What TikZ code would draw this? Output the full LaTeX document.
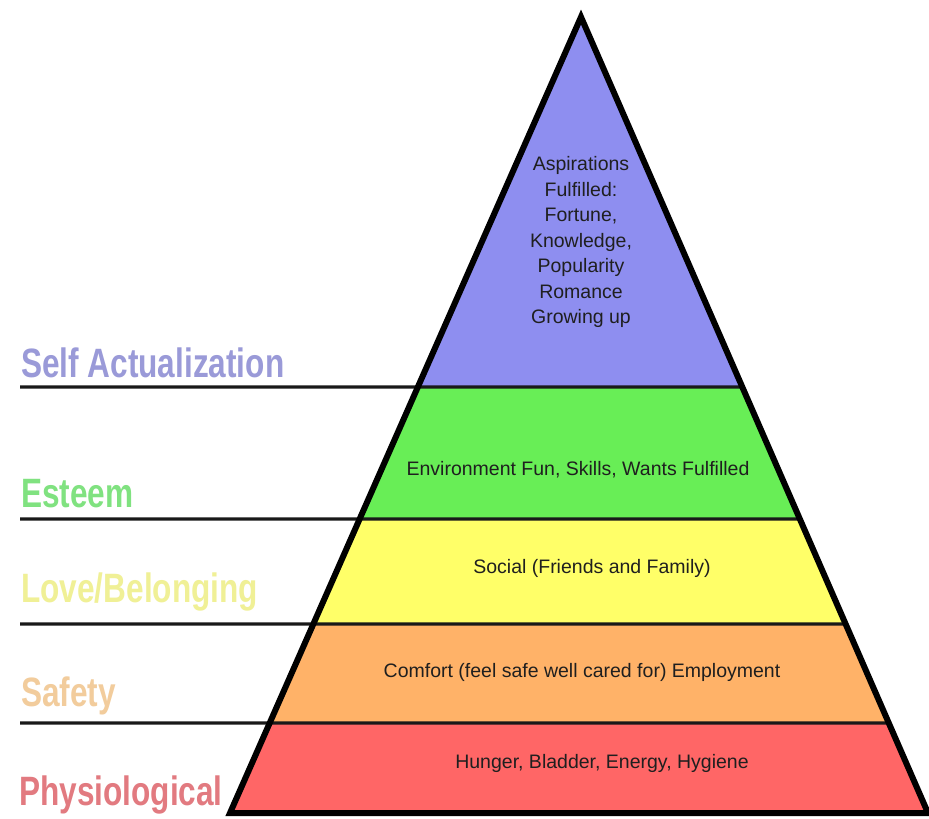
\documentclass[tikz,border=0pt]{standalone}
\usepackage{fontspec}
\setmainfont{Liberation Sans}
\newfontfamily\levelfont[FakeStretch=0.77]{Liberation Sans Bold}
\usetikzlibrary{calc}
\definecolor{selfc}{RGB}{142,142,240}
\definecolor{esteemc}{RGB}{104,238,86}
\definecolor{lovec}{RGB}{255,255,104}
\definecolor{safetyc}{RGB}{255,178,104}
\definecolor{physc}{RGB}{255,102,102}
\definecolor{selft}{RGB}{154,154,216}
\definecolor{esteemt}{RGB}{128,226,128}
\definecolor{lovet}{RGB}{240,240,150}
\definecolor{safetyt}{RGB}{242,204,156}
\definecolor{physt}{RGB}{226,122,128}
\tikzset{
  level/.style={font=\levelfont\fontsize{41}{41}\selectfont, anchor=base west, inner sep=0pt},
  need/.style={font=\fontsize{19.5}{25.5}\selectfont, text=black!88, align=center, inner sep=0pt},
  rule/.style={line width=3.2pt, black!90},
  outline/.style={line width=6pt, black, line join=miter},
}
\begin{document}
\begin{tikzpicture}[x=1pt, y=-1pt]
\useasboundingbox (0,0) rectangle (929,819);
\fill[white] (0,0) rectangle (929,819);

% corners of the pyramid
\coordinate (apex) at (581,17);
\coordinate (bl) at (230,813);
\coordinate (br) at (928,813);

% band boundaries on both slanted edges
\foreach \n/\t in {1/0.4648, 2/0.6307, 3/0.7626, 4/0.8869} {
  \coordinate (l\n) at ($(apex)!\t!(bl)$);
  \coordinate (r\n) at ($(apex)!\t!(br)$);
}

% coloured bands
\fill[selfc]   (apex) -- (l1) -- (r1) -- cycle;
\fill[esteemc] (l1) -- (l2) -- (r2) -- (r1) -- cycle;
\fill[lovec]   (l2) -- (l3) -- (r3) -- (r2) -- cycle;
\fill[safetyc] (l3) -- (l4) -- (r4) -- (r3) -- cycle;
\fill[physc]   (l4) -- (bl) -- (br) -- (r4) -- cycle;

% rules running from the left margin across to the right edge
\foreach \n/\y in {1/387, 2/519, 3/624, 4/723} {
  \coordinate (s\n) at (20,\y);
  \draw[rule] (s\n) -- (r\n);
}

% outline
\draw[outline] (apex) -- (bl) -- (br) -- cycle;

% level names
\node[level, text=selft]   (nself)   at (21,377) {Self Actualization};
\node[level, text=esteemt] (nesteem) at (21,507) {Esteem};
\node[level, text=lovet]   (nlove)   at (21,602) {Love/Belonging};
\node[level, text=safetyt] (nsafety) at (21,706) {Safety};
\node[level, text=physt]   (nphys)   at (19,805) {Physiological};

% needs inside each band
\node[need] (tself) at (581,242) {Aspirations\\Fulfilled:\\Fortune,\\Knowledge,\\Popularity\\Romance\\Growing up};
\node[need] (testeem) at (578,470) {Environment Fun, Skills, Wants Fulfilled};
\node[need] (tlove) at (592,568) {Social (Friends and Family)};
\node[need] (tsafety) at (582,672) {Comfort (feel safe well cared for) Employment};
\node[need] (tphys) at (602,763) {Hunger, Bladder, Energy, Hygiene};
\end{tikzpicture}
\end{document}
